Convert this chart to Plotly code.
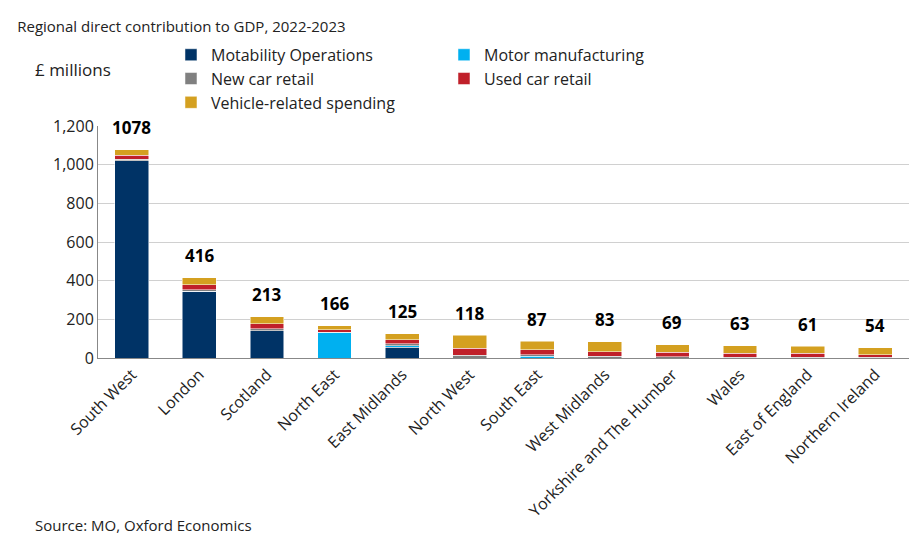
import plotly.graph_objects as go

regions = ["South West", "London", "Scotland", "North East", "East Midlands", "North West",
           "South East", "West Midlands", "Yorkshire and The Humber", "Wales",
           "East of England", "Northern Ireland"]
totals = [1078, 416, 213, 166, 125, 118, 87, 83, 69, 63, 61, 54]

mo_ops = [1020, 345, 140, 0, 55, 0, 0, 0, 0, 0, 0, 0]
motor_mfg = [0, 0, 0, 130, 8, 0, 8, 0, 0, 0, 0, 0]
new_car = [8, 8, 12, 3, 12, 15, 10, 8, 7, 5, 5, 3]
used_car = [22, 25, 25, 13, 20, 35, 24, 25, 22, 20, 20, 15]
vehicle = [28, 38, 36, 20, 30, 68, 45, 50, 40, 38, 36, 36]

series = [
    ("Motability Operations", mo_ops, "#003366"),
    ("Motor manufacturing", motor_mfg, "#00b0f0"),
    ("New car retail", new_car, "#808080"),
    ("Used car retail", used_car, "#c0202a"),
    ("Vehicle-related spending", vehicle, "#d4a020"),
]

fig = go.Figure()
for name, vals, col in series:
    fig.add_trace(go.Bar(x=regions, y=vals, name=name, marker_color=col,
                         marker_line=dict(color="white", width=0.5), width=0.5))

for r, t in zip(regions, totals):
    fig.add_annotation(x=r, y=t, text=f"<b>{t}</b>", showarrow=False, yshift=22,
                       font=dict(size=17, color="black"))

fig.add_annotation(xref="paper", yref="paper", x=-0.08, y=1.3, xanchor="left",
                   text="£ millions", showarrow=False, font=dict(size=17, color="#222"))

fig.update_layout(
    barmode="stack",
    width=921, height=559,
    margin=dict(l=90, r=20, t=118, b=209),
    plot_bgcolor="white", paper_bgcolor="white",
    font=dict(family="Open Sans, DejaVu Sans, sans-serif", color="#222"),
    title=dict(text="Regional direct contribution to GDP, 2022-2023", x=0.01, y=0.975,
               xanchor="left", font=dict(size=15, color="#222")),
    legend=dict(orientation="h", x=0.09, y=1.38, xanchor="left", yanchor="top",
                entrywidth=228, font=dict(size=16), traceorder="normal",
                itemwidth=30, tracegroupgap=0),
    bargap=0.5,
)
fig.update_yaxes(range=[0, 1200], dtick=200, tickformat=",", gridcolor="#d0d0d0",
                 showline=True, linecolor="#888", tickfont=dict(size=16), ticks="")
fig.update_xaxes(tickangle=-45, tickfont=dict(size=16), showline=True, linecolor="#888")

fig.add_annotation(xref="paper", yref="paper", x=-0.08, y=-0.77, xanchor="left",
                   text="Source: MO, Oxford Economics", showarrow=False,
                   font=dict(size=15, color="#222"))

fig.write_html("out.html")
